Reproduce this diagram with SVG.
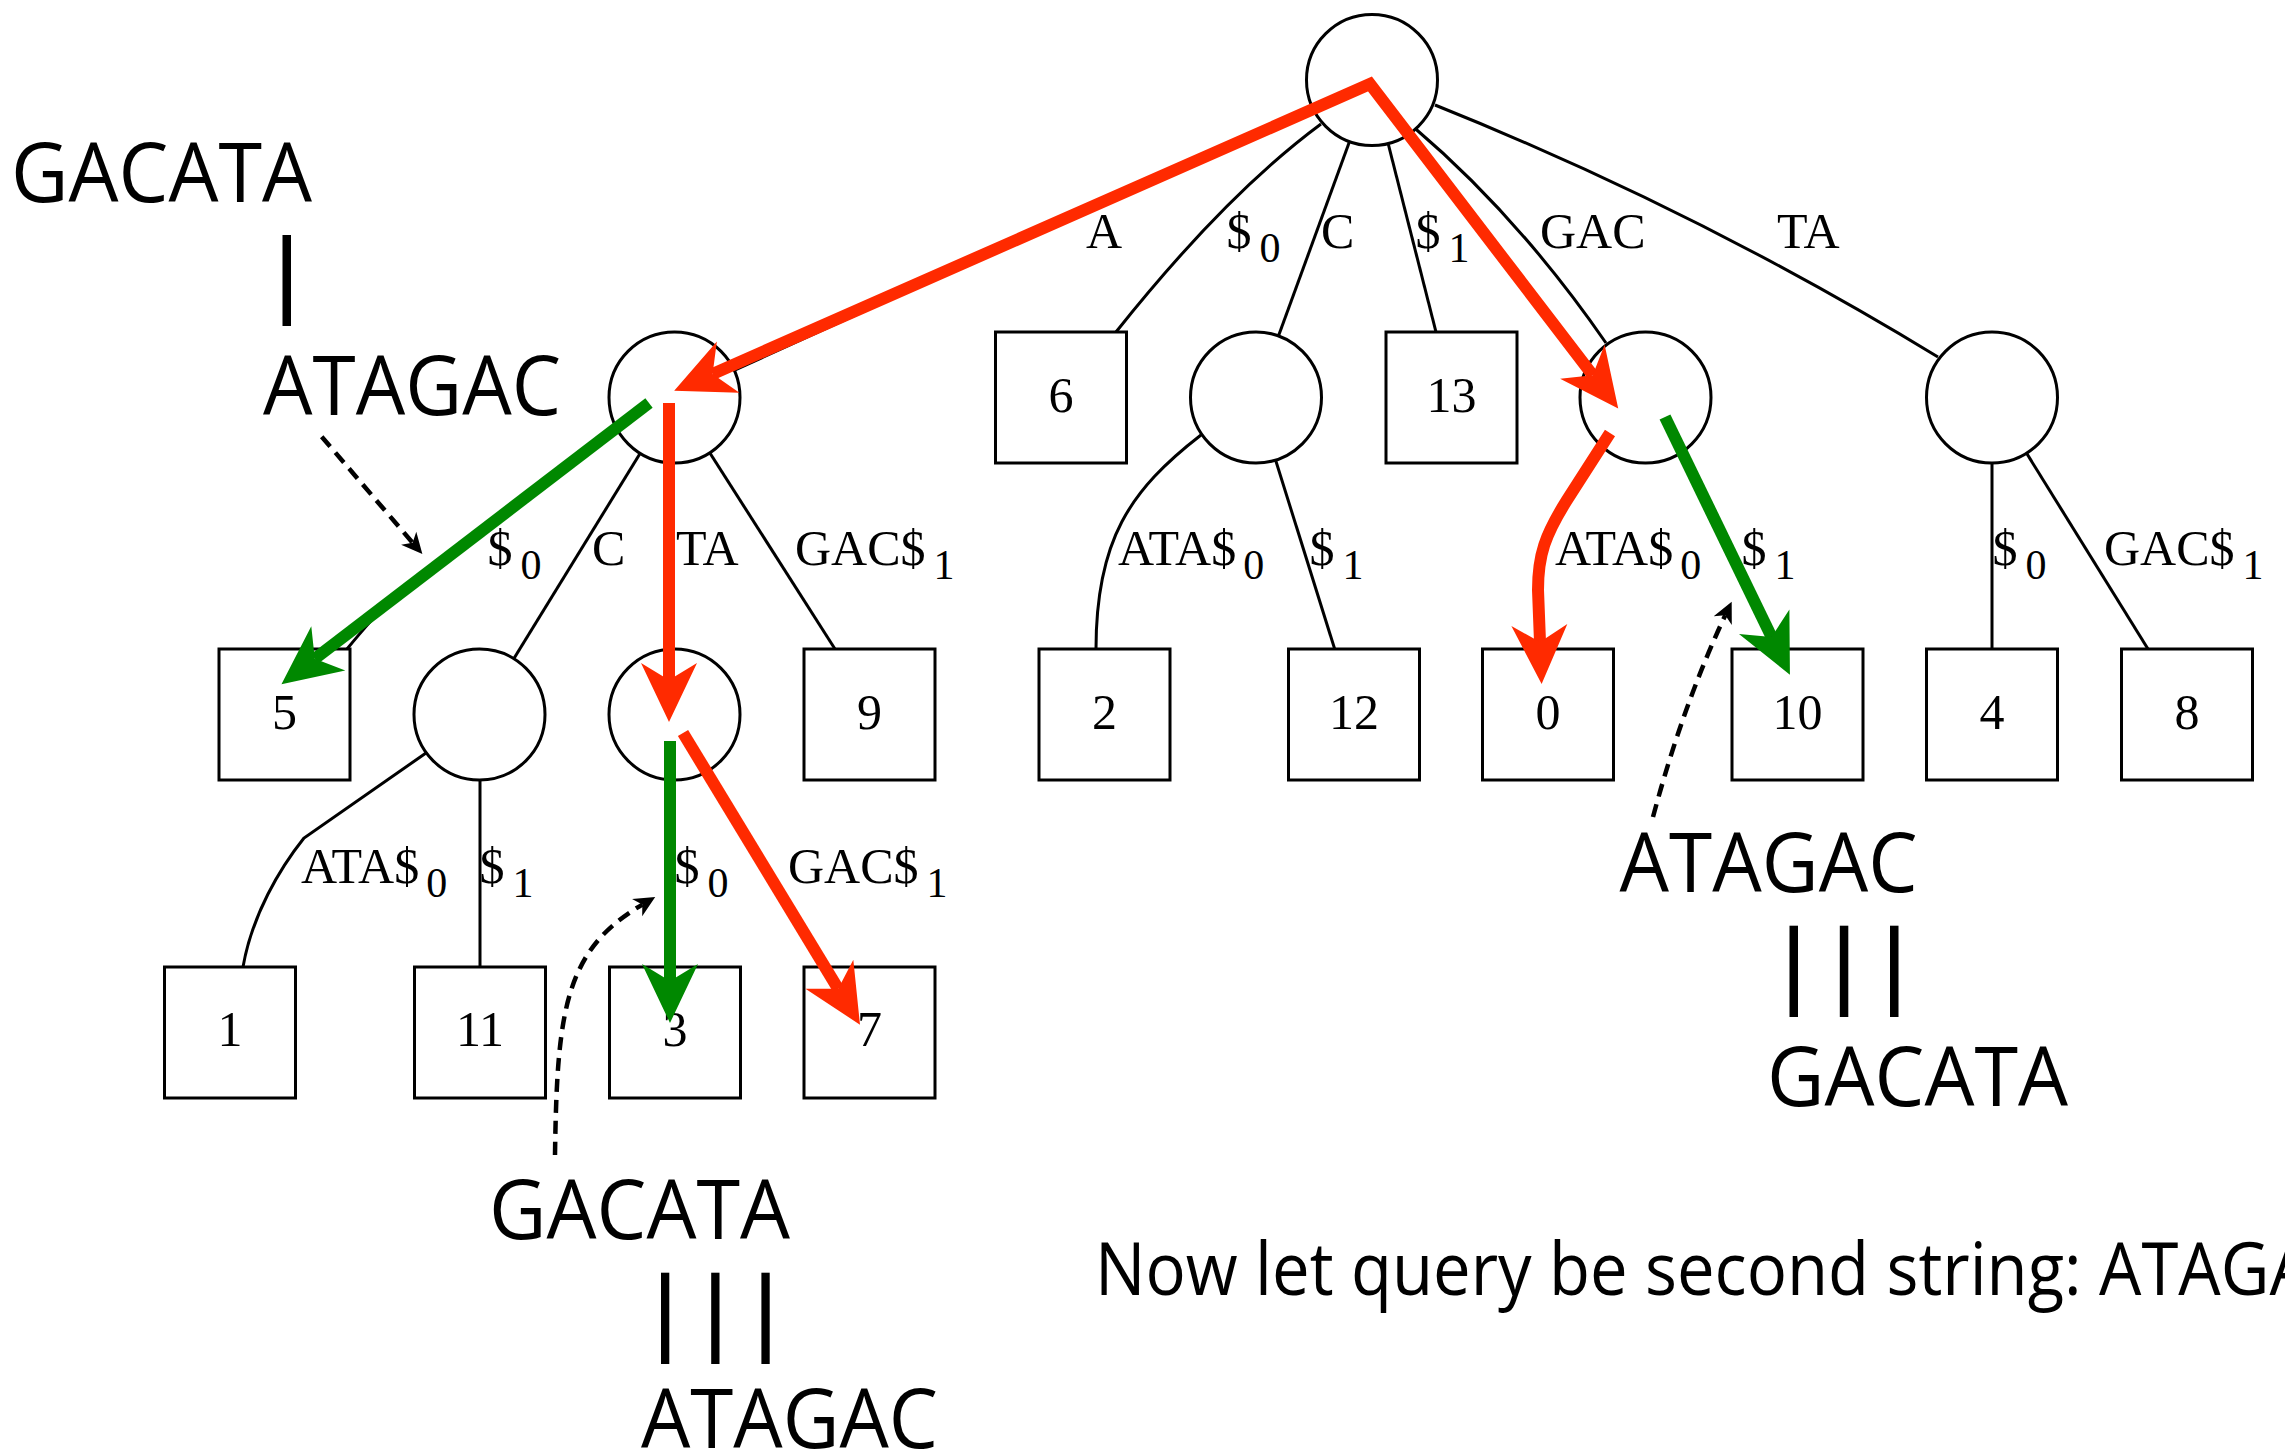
<svg xmlns="http://www.w3.org/2000/svg" width="2285" height="1453" viewBox="0 0 2285 1453">
  <defs>
    <style>
      .edge { fill: none; stroke: #000; stroke-width: 3; }
      .node circle, .node rect { fill: #fff; stroke: #000; stroke-width: 3; }
      .num { font-family: "Liberation Serif", "Times New Roman", serif; font-size: 50px; text-anchor: middle; fill: #000; }
      .lbl { font-family: "Liberation Serif", "Times New Roman", serif; font-size: 50px; fill: #000; }
      .sub { font-size: 42px; }
      .red { fill: none; stroke: #ff2a00; stroke-width: 12; stroke-linejoin: miter; stroke-miterlimit: 10; }
      .green { fill: none; stroke: #008800; stroke-width: 12; }
      .dash { fill: none; stroke: #000; stroke-width: 4.5; stroke-dasharray: 13 8; }
      .seq { font-family: "Open Sans", "Noto Sans", sans-serif; font-size: 82px; fill: #000; }
      .note { font-family: "Open Sans", "Noto Sans", sans-serif; font-size: 73px; fill: #000; }
      .bar { fill: #000; }
    </style>
    <marker id="headRed" markerUnits="userSpaceOnUse" viewBox="-25 -32 75 64" refX="0" refY="0" markerWidth="75" markerHeight="64" orient="auto-start-reverse">
      <path d="M42,0 L-17,-28 L0,0 L-17,28 Z" fill="#ff2a00"/>
    </marker>
    <marker id="headGreen" markerUnits="userSpaceOnUse" viewBox="-25 -32 75 64" refX="0" refY="0" markerWidth="75" markerHeight="64" orient="auto">
      <path d="M42,0 L-17,-28 L0,0 L-17,28 Z" fill="#008800"/>
    </marker>
    <marker id="headDash" markerUnits="userSpaceOnUse" viewBox="-10 -12 28 24" refX="0" refY="0" markerWidth="28" markerHeight="24" orient="auto">
      <path d="M15,0 L-6,-10 L0,0 L-6,10 Z" fill="#000"/>
    </marker>
  </defs>

  <rect x="0" y="0" width="2285" height="1453" fill="#fff"/>

  <!-- tree edges -->
  <g id="edges">
    <path class="edge" d="M1321,124 Q1225,195 1116,332"/>
    <line class="edge" x1="1372" y1="80" x2="1256" y2="397.5"/>
    <line class="edge" x1="1372" y1="80" x2="1436" y2="332"/>
    <path class="edge" d="M1414.6,128 Q1519,217 1606,343"/>
    <path class="edge" d="M1435,105 Q1697,210 1938,357"/>
    <line class="edge" x1="1372" y1="80" x2="674.5" y2="397.5"/>

    <path class="edge" d="M649,403 L391,600 Q375,615 347,649"/>
    <line class="edge" x1="674.5" y1="397.5" x2="479.5" y2="714.5"/>
    <line class="edge" x1="670" y1="397.5" x2="670" y2="714.5"/>
    <line class="edge" x1="674.5" y1="397.5" x2="835" y2="649"/>

    <path class="edge" d="M1201,435 C1130,490 1096,540 1096,649"/>
    <line class="edge" x1="1256" y1="397.5" x2="1334.7" y2="649"/>

    <path class="edge" d="M1610,433 L1567,500 C1545,535 1538,555 1538,590 L1539,649"/>
    <line class="edge" x1="1665" y1="417" x2="1777" y2="649"/>

    <line class="edge" x1="1992" y1="397.5" x2="1992" y2="649"/>
    <line class="edge" x1="1992" y1="397.5" x2="2148" y2="649"/>

    <path class="edge" d="M426,753 L304,838 C280,868 252,915 243,967"/>
    <line class="edge" x1="480" y1="714.5" x2="480" y2="967"/>

    <line class="edge" x1="670" y1="714.5" x2="670" y2="967"/>
    <line class="edge" x1="699" y1="760" x2="825" y2="967"/>
  </g>

  <!-- internal nodes and leaves -->
  <g id="root" class="node"><circle cx="1372" cy="80" r="65.5"/></g>

  <g id="n-A" class="node"><circle cx="674.5" cy="397.5" r="65.5"/></g>
  <g id="leaf-6" class="node"><rect x="995.5" y="332" width="131" height="131"/><text class="num" x="1061" y="412">6</text></g>
  <g id="n-C" class="node"><circle cx="1256" cy="397.5" r="65.5"/></g>
  <g id="leaf-13" class="node"><rect x="1386" y="332" width="131" height="131"/><text class="num" x="1451.5" y="412">13</text></g>
  <g id="n-GAC" class="node"><circle cx="1645.5" cy="397.5" r="65.5"/></g>
  <g id="n-TA" class="node"><circle cx="1992" cy="397.5" r="65.5"/></g>

  <g id="leaf-5" class="node"><rect x="219" y="649" width="131" height="131"/><text class="num" x="284.5" y="729">5</text></g>
  <g id="n-AC" class="node"><circle cx="479.5" cy="714.5" r="65.5"/></g>
  <g id="n-ATA" class="node"><circle cx="674.5" cy="714.5" r="65.5"/></g>
  <g id="leaf-9" class="node"><rect x="804" y="649" width="131" height="131"/><text class="num" x="869.5" y="729">9</text></g>
  <g id="leaf-2" class="node"><rect x="1039" y="649" width="131" height="131"/><text class="num" x="1104.5" y="729">2</text></g>
  <g id="leaf-12" class="node"><rect x="1288.5" y="649" width="131" height="131"/><text class="num" x="1354" y="729">12</text></g>
  <g id="leaf-0" class="node"><rect x="1482.5" y="649" width="131" height="131"/><text class="num" x="1548" y="729">0</text></g>
  <g id="leaf-10" class="node"><rect x="1732" y="649" width="131" height="131"/><text class="num" x="1797.5" y="729">10</text></g>
  <g id="leaf-4" class="node"><rect x="1926.5" y="649" width="131" height="131"/><text class="num" x="1992" y="729">4</text></g>
  <g id="leaf-8" class="node"><rect x="2121.5" y="649" width="131" height="131"/><text class="num" x="2187" y="729">8</text></g>

  <g id="leaf-1" class="node"><rect x="164.5" y="967" width="131" height="131"/><text class="num" x="230" y="1046">1</text></g>
  <g id="leaf-11" class="node"><rect x="414.5" y="967" width="131" height="131"/><text class="num" x="480" y="1046">11</text></g>
  <g id="leaf-3" class="node"><rect x="609.5" y="967" width="131" height="131"/><text class="num" x="675" y="1046">3</text></g>
  <g id="leaf-7" class="node"><rect x="804" y="967" width="131" height="131"/><text class="num" x="869.5" y="1046">7</text></g>

  <!-- edge labels -->
  <g id="edge-labels" class="lbl">
    <text x="1086" y="248">A</text>
    <text x="1226.5" y="248">$<tspan class="sub" dx="8" dy="14">0</tspan></text>
    <text x="1321" y="248">C</text>
    <text x="1415.5" y="248">$<tspan class="sub" dx="8" dy="14">1</tspan></text>
    <text x="1540" y="248">GAC</text>
    <text x="1777" y="248">TA</text>

    <text x="487.5" y="565">$<tspan class="sub" dx="8" dy="14">0</tspan></text>
    <text x="592" y="565">C</text>
    <text x="676" y="565">TA</text>
    <text x="795" y="565">GAC$<tspan class="sub" dx="8" dy="14">1</tspan></text>
    <text x="1118" y="565">ATA$<tspan class="sub" dx="7" dy="14">0</tspan></text>
    <text x="1309.5" y="565">$<tspan class="sub" dx="8" dy="14">1</tspan></text>
    <text x="1555" y="565">ATA$<tspan class="sub" dx="7" dy="14">0</tspan></text>
    <text x="1741.5" y="565">$<tspan class="sub" dx="8" dy="14">1</tspan></text>
    <text x="1992.5" y="565">$<tspan class="sub" dx="8" dy="14">0</tspan></text>
    <text x="2104" y="565">GAC$<tspan class="sub" dx="8" dy="14">1</tspan></text>

    <text x="301" y="883">ATA$<tspan class="sub" dx="7" dy="14">0</tspan></text>
    <text x="479.5" y="883">$<tspan class="sub" dx="8" dy="14">1</tspan></text>
    <text x="674.5" y="883">$<tspan class="sub" dx="8" dy="14">0</tspan></text>
    <text x="788" y="883">GAC$<tspan class="sub" dx="8" dy="14">1</tspan></text>
  </g>

  <!-- search paths: red = first string, green = matches -->
  <g id="paths">
    <path class="red" d="M712.6,373.9 L1370,84 L1592.7,375.2" marker-start="url(#headRed)" marker-end="url(#headRed)"/>
    <path class="red" d="M669,403 L669,680" marker-end="url(#headRed)"/>
    <path class="red" d="M683,733 L838.2,988.8" marker-end="url(#headRed)"/>
    <path class="red" d="M1610,433 L1567,500 C1545,535 1538,555 1538,590 L1540,642" marker-end="url(#headRed)"/>
    <path class="green" d="M649,403 L314.8,658.7" marker-end="url(#headGreen)"/>
    <path class="green" d="M670,741 L670,981" marker-end="url(#headGreen)"/>
    <path class="green" d="M1665,417 L1771.6,637" marker-end="url(#headGreen)"/>
  </g>

  <!-- pointers from alignments to tree positions -->
  <g id="pointers">
    <path class="dash" d="M321.7,436.7 L412.6,542.7" marker-end="url(#headDash)"/>
    <path class="dash" d="M555,1155 C557,1010 565,950 642.3,904.6" marker-end="url(#headDash)"/>
    <path class="dash" d="M1653,817 Q1683,705 1725.3,615.2" marker-end="url(#headDash)"/>
  </g>

  <!-- alignments -->
  <g id="align-left">
    <text class="seq" x="11" y="201.7" textLength="301" lengthAdjust="spacingAndGlyphs">GACATA</text>
    <rect class="bar" x="282.5" y="235" width="8.5" height="91"/>
    <text class="seq" x="263" y="415" textLength="298" lengthAdjust="spacingAndGlyphs">ATAGAC</text>
  </g>
  <g id="align-bottom">
    <text class="seq" x="489" y="1239" textLength="301" lengthAdjust="spacingAndGlyphs">GACATA</text>
    <rect class="bar" x="661" y="1272.7" width="8.3" height="91.3"/>
    <rect class="bar" x="711.2" y="1272.7" width="8.3" height="91.3"/>
    <rect class="bar" x="761.4" y="1272.7" width="8.3" height="91.3"/>
    <text class="seq" x="641" y="1448" textLength="297" lengthAdjust="spacingAndGlyphs">ATAGAC</text>
  </g>
  <g id="align-right">
    <text class="seq" x="1619.6" y="892" textLength="298" lengthAdjust="spacingAndGlyphs">ATAGAC</text>
    <rect class="bar" x="1789.5" y="925.7" width="8.5" height="91.3"/>
    <rect class="bar" x="1839.8" y="925.7" width="8.5" height="91.3"/>
    <rect class="bar" x="1890" y="925.7" width="8.5" height="91.3"/>
    <text class="seq" x="1767" y="1106" textLength="301" lengthAdjust="spacingAndGlyphs">GACATA</text>
  </g>

  <text id="caption" class="note" x="1095" y="1295" textLength="1259" lengthAdjust="spacingAndGlyphs">Now let query be second string: ATAGAC</text>
</svg>
